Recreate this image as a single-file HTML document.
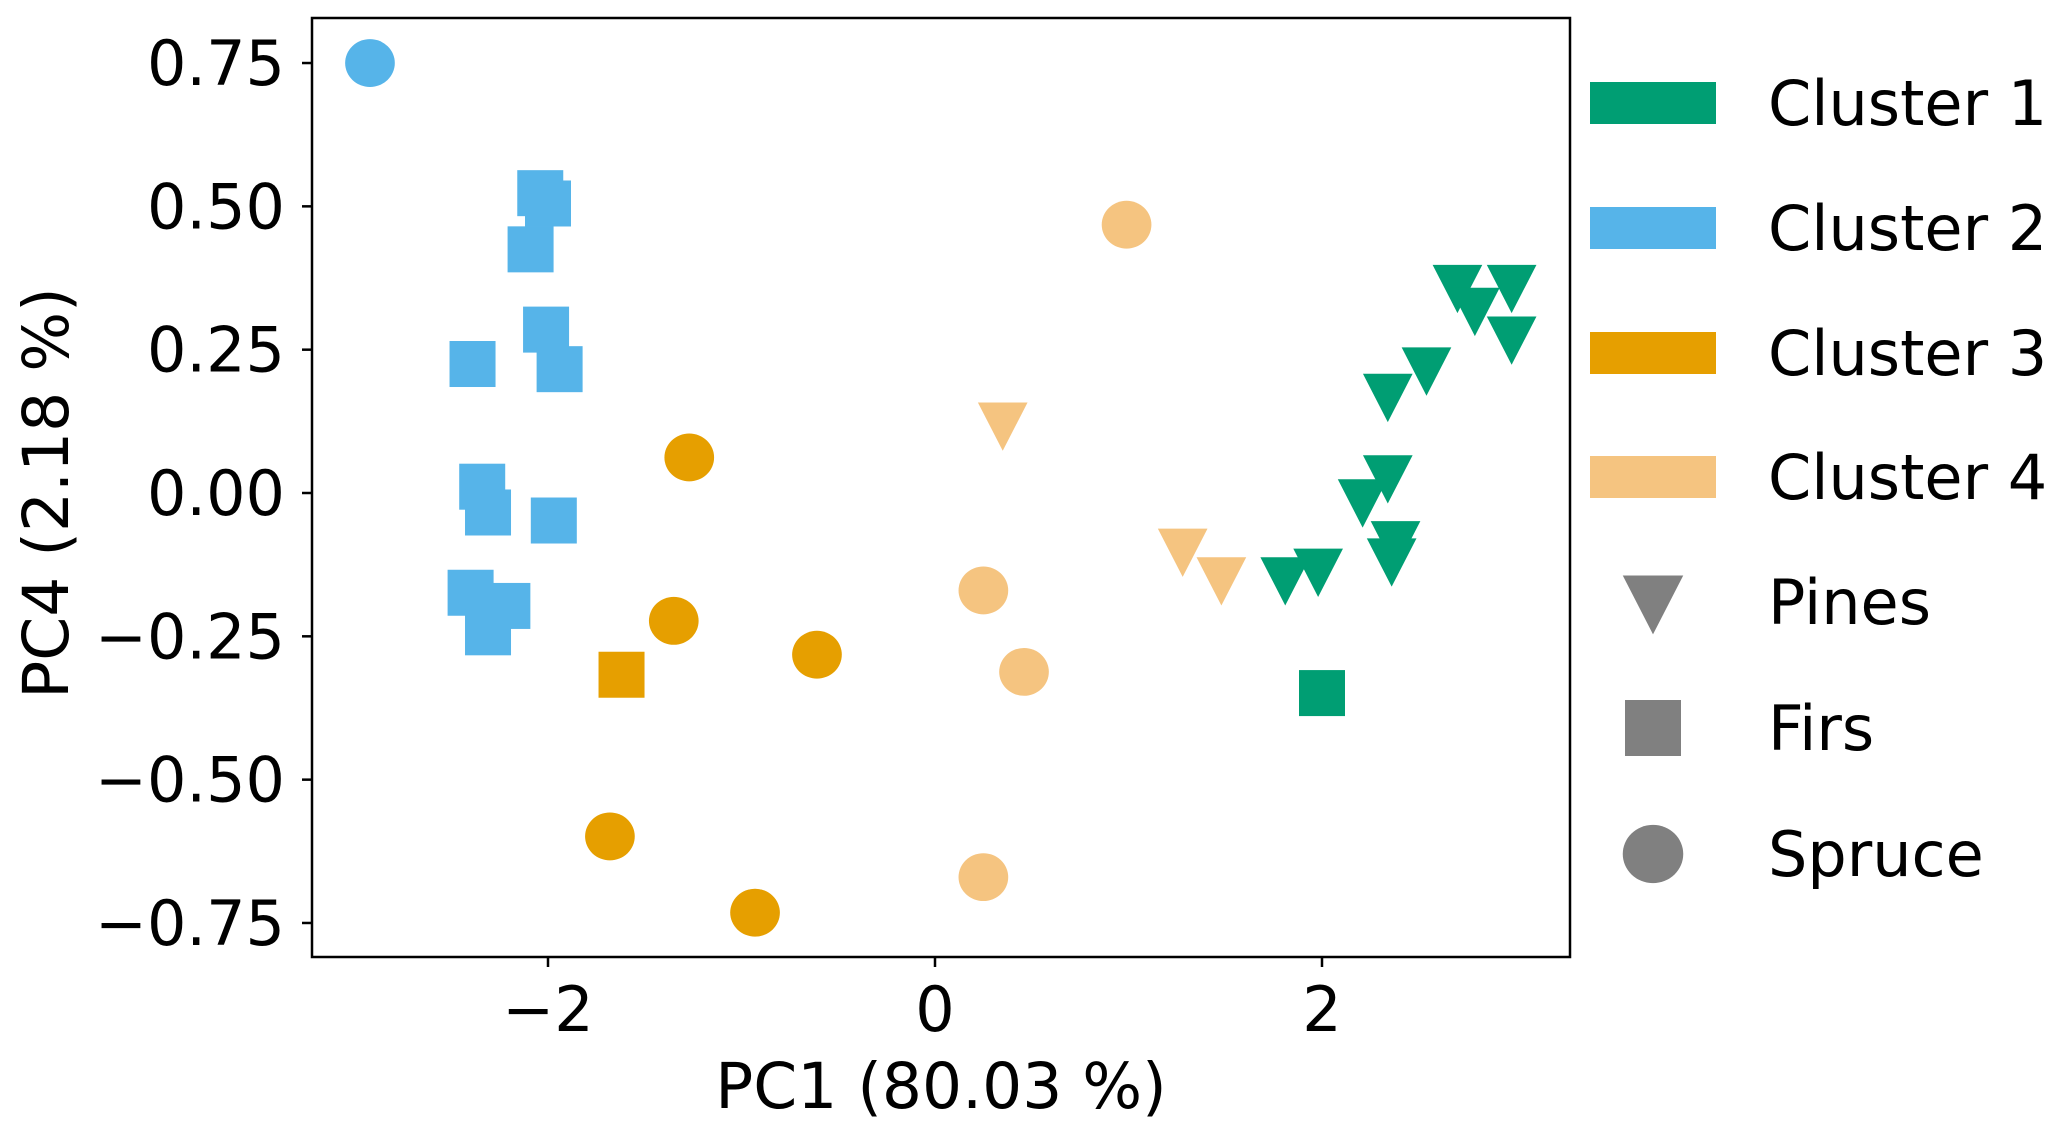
<!DOCTYPE html>
<html><head><meta charset="utf-8"><style>
html,body{margin:0;padding:0;background:#fff;}
svg{display:block;font-family:"DejaVu Sans","Liberation Sans",sans-serif;}
</style></head><body>
<svg id="chart" width="2067" height="1133" viewBox="0 0 2067 1133" xmlns="http://www.w3.org/2000/svg">
<g id="marks"></g>
<rect x="312" y="18" width="1258" height="939" fill="none" stroke="#000" stroke-width="2.5"/>
<g id="axes"></g>
<text x="941" y="1108" font-size="63" text-anchor="middle">PC1 (80.03 %)</text>
<text transform="translate(68,493) rotate(-90)" font-size="63" text-anchor="middle">PC4 (2.18 %)</text>
<g id="legend"></g>
</svg>
<script>
const xTicks = [-2, 0, 2];
const xTickLabels = ["\u22122", "0", "2"];
const yTicks = [0.75, 0.5, 0.25, 0, -0.25, -0.5, -0.75];
const yTickLabels = ["0.75", "0.50", "0.25", "0.00", "\u22120.25", "\u22120.50", "\u22120.75"];
const clusterColors = ["#009E73", "#56B4E9", "#E69F00", "#F5C480"];
const clusterNames = ["Cluster 1", "Cluster 2", "Cluster 3", "Cluster 4"];
const speciesNames = ["Pines", "Firs", "Spruce"];
const speciesShapes = ["tri", "sq", "circ"];
const ptX = [-2.92, -2.04, -2.0, -2.09, -2.01, -1.94, -2.39, -2.34, -2.31, -1.97, -2.40, -2.21, -2.31,
  -1.27, -1.35, -0.61, -1.68, -0.93, -1.62,
  0.99, 0.25, 0.46, 0.25, 0.35, 1.28, 1.48,
  2.0, 2.70, 2.79, 2.98, 2.98, 2.54, 2.34, 2.34, 2.21, 2.38, 2.36, 1.81, 1.98];
const ptY = [0.75, 0.523, 0.505, 0.425, 0.285, 0.216, 0.225, 0.011, -0.034, -0.048, -0.174, -0.197, -0.243,
  0.062, -0.223, -0.282, -0.599, -0.732, -0.317,
  0.468, -0.17, -0.312, -0.67, 0.12, -0.10, -0.15,
  -0.349, 0.36, 0.32, 0.36, 0.27, 0.216, 0.17, 0.028, -0.014, -0.087, -0.117, -0.15, -0.135];
const ptCluster = [1,1,1,1,1,1,1,1,1,1,1,1,1, 2,2,2,2,2,2, 3,3,3,3,3,3,3, 0,0,0,0,0,0,0,0,0,0,0,0,0];
const ptShape = ["circ","sq","sq","sq","sq","sq","sq","sq","sq","sq","sq","sq","sq",
  "circ","circ","circ","circ","circ","sq",
  "circ","circ","circ","circ","tri","tri","tri",
  "sq","tri","tri","tri","tri","tri","tri","tri","tri","tri","tri","tri","tri"];

const NS = "http://www.w3.org/2000/svg";
const X0 = 935, XS = 193.5, Y0 = 493, YS = 573.3;
function sx(v){ return X0 + v*XS; }
function sy(v){ return Y0 - v*YS; }

function shape(kind, cx, cy, s, color){
  let el;
  if(kind === "sq"){
    el = document.createElementNS(NS, "rect");
    el.setAttribute("x", cx - s/2); el.setAttribute("y", cy - s/2);
    el.setAttribute("width", s); el.setAttribute("height", s);
  } else if(kind === "circ"){
    el = document.createElementNS(NS, "ellipse");
    el.setAttribute("cx", cx); el.setAttribute("cy", cy);
    el.setAttribute("rx", s*0.54); el.setAttribute("ry", s*0.52);
  } else {
    el = document.createElementNS(NS, "polygon");
    const w = s*1.08, h = s*1.05;
    el.setAttribute("points", (cx-w/2)+","+(cy-h*0.45)+" "+(cx+w/2)+","+(cy-h*0.45)+" "+cx+","+(cy+h*0.55));
  }
  el.setAttribute("fill", color);
  return el;
}

const marks = document.getElementById("marks");
for(let i=0;i<ptX.length;i++){
  const el = shape(ptShape[i], sx(ptX[i]), sy(ptY[i]), 46, clusterColors[ptCluster[i]]);
  
  
  marks.appendChild(el);
}

const axes = document.getElementById("axes");
xTicks.forEach((t,i)=>{
  const l = document.createElementNS(NS,"line");
  l.setAttribute("x1", sx(t)); l.setAttribute("x2", sx(t));
  l.setAttribute("y1", 957); l.setAttribute("y2", 967);
  l.setAttribute("stroke","#000"); l.setAttribute("stroke-width","2.5");
  
  
  axes.appendChild(l);
  const tx = document.createElementNS(NS,"text");
  tx.setAttribute("x", sx(t)); tx.setAttribute("y", 1031);
  tx.setAttribute("font-size","62"); tx.setAttribute("text-anchor","middle");
  tx.textContent = xTickLabels[i];
  
  
  axes.appendChild(tx);
});
yTicks.forEach((t,i)=>{
  const l = document.createElementNS(NS,"line");
  l.setAttribute("x1", 302); l.setAttribute("x2", 312);
  l.setAttribute("y1", sy(t)); l.setAttribute("y2", sy(t));
  l.setAttribute("stroke","#000"); l.setAttribute("stroke-width","2.5");
  
  
  axes.appendChild(l);
  const tx = document.createElementNS(NS,"text");
  tx.setAttribute("x", 285); tx.setAttribute("y", sy(t)+22);
  tx.setAttribute("font-size","62"); tx.setAttribute("text-anchor","end");
  tx.textContent = yTickLabels[i];
  
  
  axes.appendChild(tx);
});

const legend = document.getElementById("legend");
const rowY = [103, 228, 353, 477, 602, 728, 854];
clusterNames.forEach((n,i)=>{
  const g = document.createElementNS(NS,"g");
  
  
  const r = document.createElementNS(NS,"rect");
  r.setAttribute("x",1590); r.setAttribute("y",rowY[i]-21);
  r.setAttribute("width",126); r.setAttribute("height",42);
  r.setAttribute("fill",clusterColors[i]);
  g.appendChild(r);
  const t = document.createElementNS(NS,"text");
  t.setAttribute("x",1768); t.setAttribute("y",rowY[i]+22);
  t.setAttribute("font-size","62"); t.textContent = n;
  g.appendChild(t);
  legend.appendChild(g);
});
speciesNames.forEach((n,i)=>{
  const g = document.createElementNS(NS,"g");
  
  
  const cy = rowY[4+i];
  g.appendChild(shape(speciesShapes[i], 1653, cy, 56, "#808080"));
  const t = document.createElementNS(NS,"text");
  t.setAttribute("x",1768); t.setAttribute("y",cy+22);
  t.setAttribute("font-size","62"); t.textContent = n;
  g.appendChild(t);
  legend.appendChild(g);
});
</script>
</body></html>
